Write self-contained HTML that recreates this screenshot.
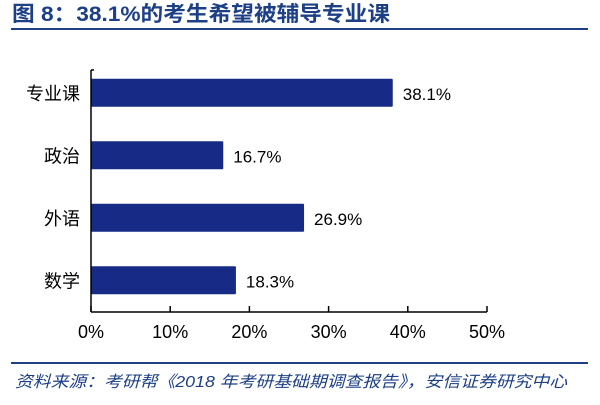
<!DOCTYPE html>
<html><head><meta charset="utf-8"><style>
body{margin:0;background:#fff;width:600px;height:400px;overflow:hidden;font-family:"Liberation Sans","Noto Sans CJK SC",sans-serif}
</style></head><body>
<svg width="600" height="400">
<text x="12" y="21" font-size="21" font-weight="bold" fill="#1c3f86" textLength="378" lengthAdjust="spacingAndGlyphs" font-family="Liberation Sans, Noto Sans CJK SC, sans-serif">图 8：38.1%的考生希望被辅导专业课</text>
<line x1="11" y1="29" x2="588" y2="29" stroke="#1c3f86" stroke-width="2"/>
<g id="plot"></g>
<line x1="11" y1="363" x2="588" y2="363" stroke="#1c3f86" stroke-width="2"/>
<text x="15" y="387" font-size="16" font-style="italic" fill="#1c3f86" textLength="552" lengthAdjust="spacingAndGlyphs" font-family="Liberation Sans, Noto Sans CJK SC, sans-serif">资料来源：考研帮《2018 年考研基础期调查报告》，安信证券研究中心</text>
</svg>
<script>
const categories=["专业课","政治","外语","数学"];
const values=[38.1,16.7,26.9,18.3];
const valueLabels=["38.1%","16.7%","26.9%","18.3%"];
const ticks=[0,10,20,30,40,50];
const tickLabels=["0%","10%","20%","30%","40%","50%"];
const NS="http://www.w3.org/2000/svg";
const g=document.getElementById('plot');
const x0=91,x1=487,yTop=62,yAxis=312;
const xs=v=>x0+(v/50)*(x1-x0);
const band=(yAxis-yTop)/categories.length;
const yc=i=>yTop+band*(i+0.5)-0.5;
function mk(t,a){const e=document.createElementNS(NS,t);for(const k in a)e.setAttribute(k,a[k]);g.appendChild(e);return e;}
categories.forEach((c,i)=>{
 const r=mk('rect',{x:x0,y:yc(i)-14,width:xs(values[i])-x0,height:28,fill:'#162a86',rx:1});
 
 
 const l=mk('text',{x:x0-11,y:yc(i)+7,'font-size':18,'text-anchor':'end',fill:'#000'});
 l.textContent=c;
 
 
 const v=mk('text',{x:xs(values[i])+10,y:yc(i)+7,'font-size':17,fill:'#000'});
 v.textContent=valueLabels[i];
 
 
});
const ya=mk('line',{x1:x0,y1:yTop+8,x2:x0,y2:yAxis,stroke:'#000','stroke-width':1.5});


const xa=mk('line',{x1:x0,y1:yAxis,x2:x1,y2:yAxis,stroke:'#000','stroke-width':1.5});


mk('line',{x1:x0,y1:yTop+8,x2:x0+3,y2:yTop+8,stroke:'#000','stroke-width':1.5});
ticks.forEach((t,i)=>{
 const tk=mk('line',{x1:xs(t),y1:yAxis-6,x2:xs(t),y2:yAxis,stroke:'#000','stroke-width':1.5});
 
 
 const tl=mk('text',{x:xs(t),y:yAxis+26,'font-size':18,'text-anchor':'middle',fill:'#000'});
 tl.textContent=tickLabels[i];
 
 
});
</script>
</body></html>
